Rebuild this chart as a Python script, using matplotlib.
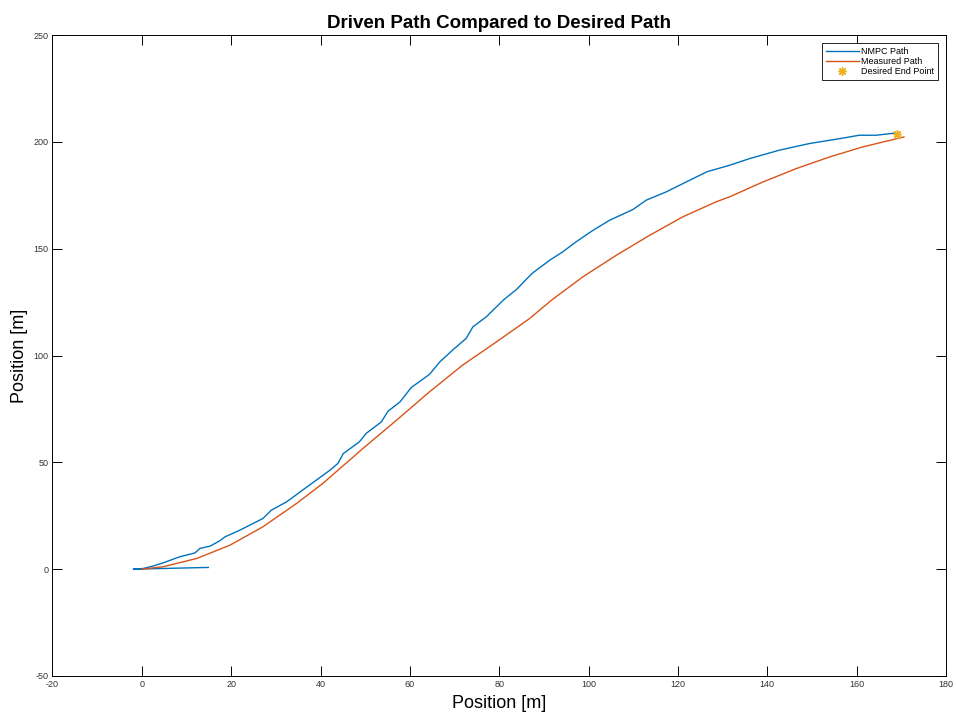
import numpy as np
import matplotlib
matplotlib.use('Agg')
import matplotlib.pyplot as plt

plt.rcParams['font.family'] = ['Liberation Sans', 'DejaVu Sans']
plt.rcParams['axes.unicode_minus'] = False

# NMPC path (x, y) in metres
nmpc_x = [14.9, -1.9, 0.3, 2.6, 4.7, 8.5, 11.9, 13.0, 15.3, 17.4, 18.6, 21.9, 27.1, 29.0, 32.4,
          37.5, 42.1, 43.9, 45.1, 48.7, 50.2, 53.6, 55.1, 57.8, 60.3, 64.4, 66.7, 69.7, 72.6,
          74.1, 77.1, 80.9, 83.9, 87.4, 91.3, 94.2, 97.2, 101.0, 104.7, 109.9, 112.9, 117.4,
          122.6, 126.5, 131.5, 136.1, 142.7, 149.4, 156.2, 160.6, 164.4, 168.9]
nmpc_y = [0.8, 0.0, 0.3, 1.5, 2.9, 5.8, 7.6, 9.7, 10.8, 13.2, 15.1, 18.2, 23.7, 27.6, 31.5,
          39.3, 46.3, 49.5, 54.1, 59.6, 63.5, 68.9, 73.9, 78.3, 85.0, 91.2, 97.0, 102.8, 108.0,
          113.4, 118.1, 125.9, 131.0, 138.5, 144.6, 148.5, 153.2, 158.6, 163.3, 168.3, 172.7, 176.6,
          182.0, 186.0, 189.0, 192.2, 196.1, 199.2, 201.5, 203.1, 203.1, 204.2]

# measured path
meas_x = [0.0, 4.7, 12.3, 19.7, 27.1, 34.6, 40.5, 43.9, 49.5, 57.0, 64.4, 71.8, 79.4, 86.8,
          91.7, 98.7, 106.2, 113.7, 121.1, 128.5, 131.5, 139.0, 146.5, 153.9, 161.3, 170.6]
meas_y = [0.0, 1.1, 5.0, 11.2, 19.8, 30.7, 40.1, 46.3, 56.5, 69.7, 83.0, 95.5, 106.4, 117.3,
          125.9, 136.8, 146.9, 156.3, 164.9, 171.9, 174.2, 181.2, 187.5, 192.9, 197.6, 202.3]

end_x = [169.0]
end_y = [203.9]

fig = plt.figure(figsize=(9.56, 7.12), dpi=100)
ax = fig.add_axes([0.0549, 0.0506, 0.9346, 0.9002])

ax.plot(nmpc_x, nmpc_y, color='#0072BD', lw=1.0, label='NMPC Path')
ax.plot(meas_x, meas_y, color='#D95319', lw=1.0, label='Measured Path')
ax.plot(end_x, end_y, marker=(8, 2, 0), ls='none', color='#EDB120', ms=6, mew=1.0,
        label='Desired End Point')

ax.set_xlim(-20, 180)
ax.set_ylim(-50, 250)
ax.set_xticks(np.arange(-20, 181, 20))
ax.set_yticks(np.arange(-50, 251, 50))
ax.tick_params(direction='in', top=True, right=True, length=7, width=0.7,
               labelsize=6.5, labelcolor='#333333', pad=3)
for s in ax.spines.values():
    s.set_linewidth(0.7)

ax.set_xlabel('Position [m]', fontsize=13, labelpad=4)
ax.set_ylabel('Position [m]', fontsize=13, labelpad=4)
ax.set_title('Driven Path Compared to Desired Path', fontsize=13.5, fontweight='bold', pad=5)

leg = ax.legend(loc='upper right', fontsize=6.5, fancybox=False, edgecolor='black',
                framealpha=1, borderaxespad=0.9, handlelength=3.6, handletextpad=0.3,
                labelspacing=0.15)
leg.get_frame().set_linewidth(0.6)

fig.savefig('out.png', dpi=100)
